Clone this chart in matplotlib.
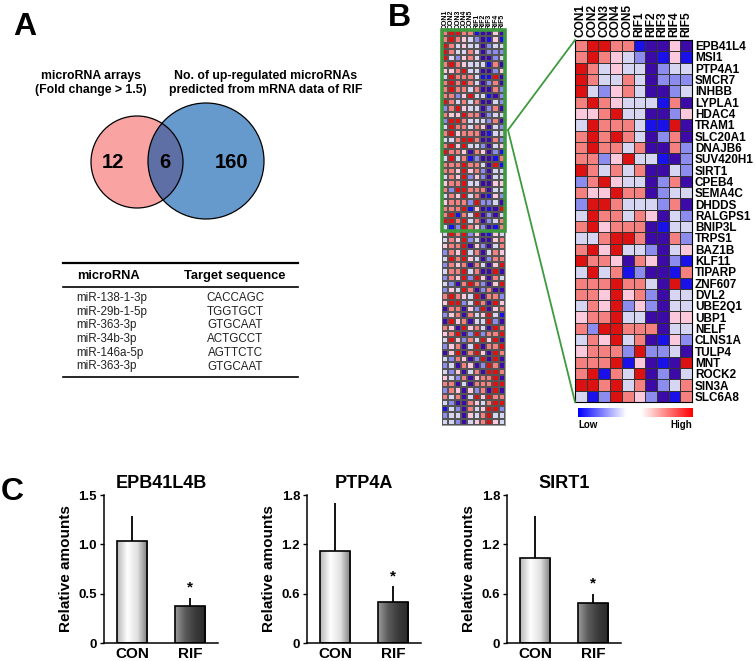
import numpy as np
import matplotlib
matplotlib.use('Agg')
import matplotlib.pyplot as plt
from matplotlib.colors import ListedColormap, BoundaryNorm, LinearSegmentedColormap
from matplotlib.patches import Circle, Rectangle
from matplotlib.lines import Line2D

plt.rcParams['font.family'] = ['Liberation Sans', 'DejaVu Sans']

# ---- data ----
venn_left_only = 12
venn_overlap = 6
venn_right_only = 160
venn_left_title = 'microRNA arrays\n(Fold change > 1.5)'
venn_right_title = 'No. of up-regulated microRNAs\npredicted from mRNA data of RIF'

table_mirna = ['miR-138-1-3p', 'miR-29b-1-5p', 'miR-363-3p', 'miR-34b-3p', 'miR-146a-5p', 'miR-363-3p']
table_target = ['CACCAGC', 'TGGTGCT', 'GTGCAAT', 'ACTGCCT', 'AGTTCTC', 'GTGCAAT']

samples = ['CON1', 'CON2', 'CON3', 'CON4', 'CON5', 'RIF1', 'RIF2', 'RIF3', 'RIF4', 'RIF5']
genes = ['EPB41L4', 'MSI1', 'PTP4A1', 'SMCR7', 'INHBB', 'LYPLA1', 'HDAC4', 'TRAM1',
         'SLC20A1', 'DNAJB6', 'SUV420H1', 'SIRT1', 'CPEB4', 'SEMA4C', 'DHDDS', 'RALGPS1',
         'BNIP3L', 'TRPS1', 'BAZ1B', 'KLF11', 'TIPARP', 'ZNF607', 'DVL2', 'UBE2Q1',
         'UBP1', 'NELF', 'CLNS1A', 'TULP4', 'MNT', 'ROCK2', 'SIN3A', 'SLC6A8']

# expression level codes, -3 (low) .. 3 (high)
zoom_levels = [
    [2, 3, 3, 2, 2, -3, -2, -2, 1, -2],
    [2, 3, 2, 1, 0, -1, -2, -3, 1, -3],
    [3, 2, 0, 1, 0, 0, -2, -1, 0, 0],
    [3, 2, 0, 0, 2, 0, -2, -1, -1, -1],
    [3, 0, -1, 1, 2, 0, -2, -2, -1, 0],
    [2, 3, 2, 1, 0, 0, 0, -3, 2, -2],
    [1, 1, 2, 3, 0, 0, -2, -2, -1, 1],
    [0, 3, 2, 2, 2, 0, -3, -3, 3, -2],
    [2, 3, 2, 3, 2, 0, -2, -1, 2, -2],
    [2, 3, 2, 2, 0, 2, -2, -2, 2, -1],
    [2, 2, -1, 1, 3, 0, 0, -3, -2, -1],
    [3, 2, 0, 2, 0, 2, -2, -2, 0, -1],
    [-1, 2, 3, 1, 0, 0, -2, -1, 2, -2],
    [2, 1, 1, 3, 2, 2, -2, -1, 0, 0],
    [-1, 3, 3, 2, 0, 0, 0, -1, 2, -2],
    [0, 3, 2, 2, 0, 2, 1, -2, 0, -1],
    [2, 3, 1, 2, 2, 2, -2, -3, 0, 0],
    [0, 0, 2, 3, 3, 2, -2, -2, 2, -1],
    [2, 3, 1, 3, 0, 0, -1, -2, 0, 1],
    [3, 2, 2, 1, -2, 2, 1, -2, -1, -3],
    [0, 3, 0, 2, -3, -1, -2, -2, -3, 2],
    [2, 2, 2, 3, 2, 2, 0, -2, 3, -3],
    [2, 2, 1, 3, 1, 2, -1, -2, 0, 0],
    [0, 2, 1, 3, -1, 1, -1, -2, 0, 0],
    [1, 2, 2, 3, 0, 0, -2, -2, 1, 1],
    [2, -1, 3, 3, 2, 2, 2, -2, 0, 0],
    [0, 2, 1, 3, 0, 2, -2, -3, 1, -1],
    [1, 2, 2, 2, -1, 3, -1, -1, 0, -2],
    [2, 2, 2, 3, -3, 1, -2, -3, -2, 3],
    [2, 3, -3, 2, 0, 3, -2, -1, -2, 0],
    [3, 3, 2, 3, 0, 2, -2, -1, 0, 2],
    [0, -3, -1, 3, 2, 1, -1, -2, -3, 2],
]

other_levels = [
    [0, 3, 2, 3, -1, 1, -2, -3, 1, 0],
    [0, 2, 1, 3, -1, 0, -2, -2, 1, 2],
    [1, 2, 2, 3, -2, 1, -1, -2, 0, 2],
    [-1, 2, 1, 3, 0, 2, -2, 0, 2, 1],
    [0, 3, 2, 3, 1, 0, -2, -1, 2, 2],
    [-1, 2, 1, 2, -2, 2, 0, -2, 1, 3],
    [0, 2, 2, 3, 0, 2, -2, -2, 3, -2],
    [-1, 2, 1, 3, -1, 3, 1, -2, 2, 0],
    [0, -1, -2, 2, 3, 2, -1, -2, 1, 3],
    [-1, 1, 0, 3, 2, -2, -1, 2, -2, -2],
    [2, 3, 2, 1, 0, 3, -2, 2, 2, -1],
    [1, 3, 3, -1, 0, 3, 2, -2, 3, 1],
    [-2, 2, 2, -2, 1, -1, 3, -2, 1, 2],
    [-1, 1, 2, -2, 2, 0, 1, 3, 0, -3],
    [-2, 3, 1, 2, -2, 0, 0, 3, -1, -2],
    [2, 1, -2, 3, 1, 2, 0, -2, 3, 2],
    [1, 2, 3, -2, -1, 3, -1, 2, 2, 3],
    [0, 3, 1, -1, 2, 0, 3, 1, 3, -2],
    [-1, 1, 2, -2, 0, 3, -2, 2, 2, 3],
    [-2, 1, 3, -2, 2, 3, 1, -2, 3, 2],
    [0, -1, 2, 1, -2, -1, 3, -2, 3, -2],
    [-1, 0, -2, 2, 1, -2, -1, 3, 2, -2],
    [0, -1, 1, -2, 0, 2, -2, 3, 3, 2],
    [1, 0, -1, 2, -2, 1, 2, 2, 3, -2],
    [2, 2, -2, 0, -2, 2, 2, 2, 3, 3],
    [-1, 2, 1, -2, 1, -1, 2, -2, 3, -2],
    [2, 0, 2, -2, 0, 3, 1, 3, 2, 2],
    [0, -1, -2, -2, 2, 1, 0, 2, 3, 3],
    [-3, 0, -1, -2, 2, 0, 1, 3, 3, -1],
    [-1, 0, 0, -2, 1, 0, 2, 3, 0, 0],
    [0, 0, -1, -2, 0, 1, 2, 3, 1, 0],
]

bar_groups = ['CON', 'RIF']
bar_titles = ['EPB41L4B', 'PTP4A', 'SIRT1']
bar_means = [[1.03, 0.37], [1.12, 0.50], [1.03, 0.49]]
bar_errs = [[0.26, 0.09], [0.58, 0.19], [0.51, 0.11]]
bar_ymax = [1.5, 1.8, 1.8]
bar_yticks = [[0, 0.5, 1.0, 1.5], [0, 0.6, 1.2, 1.8], [0, 0.6, 1.2, 1.8]]
bar_yticklabels = [['0', '0.5', '1.0', '1.5'], ['0', '0.6', '1.2', '1.8'], ['0', '0.6', '1.2', '1.8']]

# ---- figure ----
W, H = 755, 661
fig = plt.figure(figsize=(W / 100, H / 100), dpi=100)

def frac(x0, y0, x1, y1):
    return [x0 / W, 1 - y1 / H, (x1 - x0) / W, (y1 - y0) / H]

ov = fig.add_axes([0, 0, 1, 1])
ov.set_xlim(0, W)
ov.set_ylim(H, 0)
ov.axis('off')

# panel labels
ov.text(13, 27, 'A', fontsize=23, fontweight='bold', va='center')
ov.text(388, 18, 'B', fontsize=23, fontweight='bold', va='center')
ov.text(1, 492, 'C', fontsize=23, fontweight='bold', va='center')

# ---- Venn ----
ov.text(91, 83, venn_left_title, ha='center', va='center', fontsize=8.8,
        fontweight='bold', linespacing=1.2)
ov.text(266, 83, venn_right_title, ha='center', va='center', fontsize=8.8,
        fontweight='bold', linespacing=1.2)
left_c = Circle((137, 162), 46, facecolor='#f9a3a3', edgecolor='none')
right_c = Circle((206, 161), 58, facecolor='#6699cc', edgecolor='none')
ov.add_patch(left_c)
ov.add_patch(right_c)
inter = Circle((137, 162), 46, facecolor='#5e6fa6', edgecolor='none')
ov.add_patch(inter)
inter.set_clip_path(right_c)
ov.add_patch(Circle((137, 162), 46, facecolor='none', edgecolor='black', lw=0.9))
ov.add_patch(Circle((206, 161), 58, facecolor='none', edgecolor='black', lw=0.9))
ov.text(113, 163, str(venn_left_only), ha='center', va='center', fontsize=14.5, fontweight='bold')
ov.text(165, 163, str(venn_overlap), ha='center', va='center', fontsize=14.5, fontweight='bold')
ov.text(231, 163, str(venn_right_only), ha='center', va='center', fontsize=14.5, fontweight='bold')

# ---- table ----
ov.plot([63, 298], [263, 263], color='black', lw=1.6)
ov.plot([63, 298], [287, 287], color='black', lw=1.2)
ov.text(108, 276, 'microRNA', ha='center', va='center', fontsize=9.3, fontweight='bold')
ov.text(235, 276, 'Target sequence', ha='center', va='center', fontsize=9.3, fontweight='bold')
for i, (m, t) in enumerate(zip(table_mirna, table_target)):
    y = 298 + i * 13.7
    ov.text(76, y, m, ha='left', va='center', fontsize=8.4, color='#222222')
    ov.text(235, y, t, ha='center', va='center', fontsize=8.4, color='#222222')
ov.plot([63, 298], [377, 377], color='black', lw=1.2)

# ---- heatmaps ----
level_colors = ['#1a10e8', '#3c0aa6', '#8c8cee', '#d6d6f2', '#fbc8dc', '#f48080', '#dc1212']
cmap = ListedColormap(level_colors)
norm = BoundaryNorm(np.arange(-3.5, 4.5, 1), cmap.N)

zoom_arr = np.array(zoom_levels)
full_arr = np.vstack([zoom_arr, np.array(other_levels)])

axL = fig.add_axes(frac(442, 30, 505, 425))
axL.pcolormesh(full_arr, cmap=cmap, norm=norm, edgecolors='#555555', linewidth=0.3)
axL.set_xlim(0, full_arr.shape[1])
axL.set_ylim(full_arr.shape[0], 0)
axL.set_xticks(np.arange(len(samples)) + 0.5)
axL.set_xticklabels(samples, rotation=90, fontsize=5, fontweight='bold')
axL.xaxis.tick_top()
axL.tick_params(length=0, pad=1)
axL.set_yticks([])
for s in axL.spines.values():
    s.set_linewidth(0.4)
    s.set_color('#555555')
axL.add_patch(Rectangle((0, 0), full_arr.shape[1], zoom_arr.shape[0], fill=False,
                        edgecolor='#3e9a3e', lw=2.6, clip_on=False, zorder=5))

axR = fig.add_axes(frac(575, 40, 692, 402))
axR.pcolormesh(zoom_arr, cmap=cmap, norm=norm, edgecolors='#333333', linewidth=0.6)
axR.set_xlim(0, zoom_arr.shape[1])
axR.set_ylim(zoom_arr.shape[0], 0)
axR.set_xticks(np.arange(len(samples)) + 0.5)
axR.set_xticklabels(samples, rotation=90, fontsize=8.6, fontweight='bold')
axR.xaxis.tick_top()
axR.set_yticks(np.arange(len(genes)) + 0.5)
axR.set_yticklabels(genes, fontsize=8.5, fontweight='bold')
axR.yaxis.tick_right()
axR.tick_params(length=0, pad=2)
for s in axR.spines.values():
    s.set_linewidth(0.8)

# connecting lines
fig.add_artist(Line2D([508 / W, 575 / W], [1 - 130 / H, 1 - 40 / H], color='#3e9a3e', lw=1.3))
fig.add_artist(Line2D([508 / W, 575 / W], [1 - 130 / H, 1 - 402 / H], color='#3e9a3e', lw=1.3))

# colour bar
axC = fig.add_axes(frac(578, 408, 692, 417))
grad_cmap = LinearSegmentedColormap.from_list(
    'lowhigh', [(0, '#0000ff'), (0.42, '#ffffff'), (0.55, '#ffffff'), (1, '#ff0000')])
axC.imshow(np.linspace(0, 1, 256)[None, :], aspect='auto', cmap=grad_cmap)
axC.axis('off')
ov.text(578, 425, 'Low', ha='left', va='center', fontsize=7, fontweight='bold')
ov.text(692, 425, 'High', ha='right', va='center', fontsize=7, fontweight='bold')

# ---- bar charts ----
con_grad = LinearSegmentedColormap.from_list('con', ['#b8b8b8', '#ffffff', '#e0e0e0', '#7a7a7a'])
rif_grad = LinearSegmentedColormap.from_list('rif', ['#9a9a9a', '#5a5a5a', '#3a3a3a', '#2a2a2a'])
bar_lefts = [104, 307, 507]
xs = np.arange(len(bar_groups))
for k in range(3):
    ax = fig.add_axes(frac(bar_lefts[k], 495, bar_lefts[k] + 114, 643))
    bars = ax.bar(xs, bar_means[k], width=0.52, color='none', edgecolor='black', lw=1.2, zorder=3)
    ax.errorbar(xs, bar_means[k], yerr=[[0, 0], bar_errs[k]], fmt='none',
                ecolor='black', elinewidth=1.3, capsize=0, zorder=2)
    for patch, gmap in zip(bars, [con_grad, rif_grad]):
        x0, y0 = patch.get_x(), patch.get_y()
        im = ax.imshow(np.linspace(0, 1, 100)[None, :], cmap=gmap, aspect='auto',
                       extent=[x0, x0 + patch.get_width(), y0, y0 + patch.get_height()], zorder=2.5)
        im.set_clip_path(patch)
    ax.text(xs[1], bar_means[k][1] + bar_errs[k][1] + bar_ymax[k] * 0.02, '*',
            ha='center', va='bottom', fontsize=11, fontweight='bold')
    ax.set_xlim(-0.483, 1.483)
    ax.set_ylim(0, bar_ymax[k])
    ax.set_yticks(bar_yticks[k])
    ax.set_yticklabels(bar_yticklabels[k], fontsize=9.5, fontweight='bold')
    ax.set_xticks(xs)
    ax.set_xticklabels(bar_groups, fontsize=11, fontweight='bold')
    ax.tick_params(axis='x', length=0, pad=3)
    ax.tick_params(axis='y', length=3, width=1, direction='out', pad=2)
    ax.spines['top'].set_visible(False)
    ax.spines['right'].set_visible(False)
    ax.spines['left'].set_linewidth(1.1)
    ax.spines['bottom'].set_linewidth(1.1)
    ax.set_ylabel('Relative amounts', fontsize=11, fontweight='bold', labelpad=4)
    ax.set_title(bar_titles[k], fontsize=13, fontweight='bold', pad=5)

fig.savefig('out.png', dpi=100)
